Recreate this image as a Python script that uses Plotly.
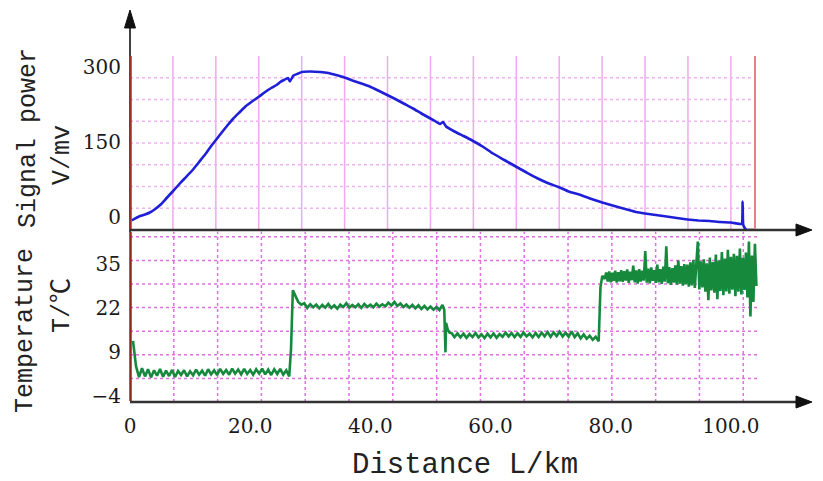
import plotly.graph_objects as go

# ---------------- data ----------------
# Signal power (V/mv) vs distance (km)
sig_km = [0.3, 0.55, 1.5, 2.5, 3.3, 4.2, 5.2, 6.1, 7.1, 8.0, 9.0, 10.5, 11.5, 12.5, 13.4, 14.3,
          15.2, 16.2, 17.2, 18.2, 19.3, 20.3, 21.5, 22.5, 23.5, 24.4, 25.0, 25.6, 26.3, 26.6, 27.2,
          28.0, 28.6, 30.0, 31.6, 33.0, 34.3, 35.7, 37.0, 38.5, 39.9, 41.3, 42.8, 44.3, 45.7, 47.1,
          48.5, 50.0, 51.0, 51.6, 52.1, 52.6, 54.0, 55.5, 57.1, 58.8, 60.4, 62.3, 64.2, 66.0, 67.7,
          69.5, 71.3, 73.0, 75.0, 76.8, 78.6, 80.6, 82.7, 84.2, 85.7, 87.5, 89.3, 91.0, 92.8, 94.6,
          96.5, 98.2, 100.0, 101.0, 101.8, 101.95, 102.05, 102.3, 102.6, 103.2, 104.0]
sig_val = [-7, -5, 1, 5, 9, 16, 26, 38, 51, 63, 76, 95, 110, 125, 140, 154,
           168, 183, 197, 209, 222, 231, 241, 250, 258, 264, 270, 274, 278, 271, 283,
           287, 290, 291, 290, 288, 284, 279, 273, 267, 261, 253, 244, 235, 226, 217,
           207, 197, 190, 186, 190, 181, 171, 162, 152, 140, 127, 114, 101, 89, 78,
           68, 60, 51, 44, 36, 29, 22, 15, 10, 7, 4, 1, -2, -5, -7,
           -8, -10, -11, -13, -14, 31, -15, -22, -26, -26, -26]

# Temperature (°C) vs distance (km), sampled segments
seg_a_start, seg_a_step = 0.5, 0.5
seg_a_val = [12.3, 4.8, 1.6, 4.2, 1.8, 3.9, 1.5, 3.6, 2.0, 4.0, 1.7, 3.5, 1.9, 3.7, 1.6, 3.4,
             2.2, 3.6, 1.8, 3.3, 2.1, 3.8, 2.3, 3.5, 2.0, 3.9, 2.4, 3.6, 2.2, 4.0, 2.5, 3.7,
             2.3, 4.1, 2.6, 3.8, 2.4, 4.0, 2.5, 3.7, 2.3, 3.9, 2.6, 4.1, 2.4, 3.8, 2.2, 3.9,
             2.5, 4.0, 2.3, 3.6, 1.8]
jump1_km = [26.8, 27.1, 27.5, 28.0, 28.5]
jump1_val = [10.0, 27.2, 25.5, 23.8, 23.0]
seg_b_start, seg_b_step = 29.0, 0.5
seg_b_val = [23.4, 22.0, 23.1, 22.2, 23.0, 21.9, 22.9, 22.1, 23.2, 22.0, 22.8, 21.8, 23.0, 22.3,
             23.4, 22.1, 22.9, 22.2, 23.1, 22.0, 23.2, 22.3, 23.0, 22.2, 23.3, 22.4, 23.1, 22.5,
             23.6, 22.7, 23.8, 22.6, 23.3, 22.3, 23.0, 22.1, 22.9, 21.9, 22.8, 21.7, 22.6, 21.6,
             22.4, 21.5, 22.3, 21.4, 22.9]
jump2_km = [52.3, 52.5, 52.6, 52.9, 53.2]
jump2_val = [21.5, 8.9, 17.6, 15.5, 14.7]
seg_c_start, seg_c_step = 53.5, 0.5
seg_c_val = [14.6, 13.4, 14.5, 13.3, 14.4, 13.2, 14.3, 13.4, 14.6, 13.3, 14.2, 13.1, 14.4, 13.3,
             14.5, 13.2, 14.3, 13.5, 14.7, 13.6, 14.6, 13.4, 14.5, 13.5, 14.8, 13.6, 14.4, 13.3,
             14.6, 13.4, 14.7, 13.6, 14.9, 13.5, 14.8, 13.7, 15.0, 13.6, 14.7, 13.5, 15.1, 13.4,
             14.5, 13.0, 14.2, 12.9, 13.8, 12.6, 13.5, 12.2]
jump3_km = [78.3, 78.6, 79.0]
jump3_val = [28.2, 31.5, 30.6]
seg_d_start, seg_d_step = 79.25, 0.25
seg_d_val = [32.5, 29.8, 32.8, 29.6, 32.4, 30.0, 33.0, 29.5, 32.6, 29.9, 33.2, 29.7, 32.9, 30.1,
             33.4, 29.4, 32.7, 30.2, 34.5, 29.6, 33.1, 29.2, 33.5, 29.8, 33.0, 30.1, 38.8, 29.5,
             33.6, 29.3, 34.0, 30.0, 33.2, 29.4, 34.8, 29.6, 33.5, 29.1, 34.2, 29.8, 40.2, 29.3,
             34.1, 28.8, 33.8, 29.5, 34.6, 28.9, 36.1, 29.2, 34.4, 28.6, 35.0, 29.0, 34.8, 28.3,
             35.5, 28.7, 36.2, 27.9, 35.1, 41.6, 27.5, 35.8, 28.1, 36.4, 26.8, 35.2, 24.3, 36.9,
             27.2, 35.6, 26.5, 37.8, 24.6, 36.0, 27.0, 38.5, 25.8, 36.6, 26.9, 39.2, 26.2, 37.1,
             27.4, 38.0, 25.5, 37.4, 26.8, 39.6, 26.0, 36.8, 27.3, 38.4, 25.1, 41.6, 19.5, 37.5,
             23.8, 41.0, 28.5]

x_tick_vals = [0, 20, 40, 60, 80, 100]
x_tick_text = ["0", "20.0", "40.0", "60.0", "80.0", "100.0"]
sig_tick_vals = [0, 150, 300]
sig_tick_text = ["0", "150", "300"]
temp_tick_vals = [-4, 9, 22, 35]
temp_tick_text = ["\u22124", "9", "22", "35"]


def grid(start, step, vals):
    return [round(start + i * step, 3) for i in range(len(vals))]


temp_km = (grid(seg_a_start, seg_a_step, seg_a_val) + jump1_km +
           grid(seg_b_start, seg_b_step, seg_b_val) + jump2_km +
           grid(seg_c_start, seg_c_step, seg_c_val) + jump3_km +
           grid(seg_d_start, seg_d_step, seg_d_val))
temp_val = seg_a_val + jump1_val + seg_b_val + jump2_val + seg_c_val + jump3_val + seg_d_val

# ---------------- layout helpers ----------------
# The page body adds an 8px offset, so the figure is 8px smaller and
# pixel geometry below is expressed in the 823x481 screenshot frame.
OFF = 8
W, H = 823 - OFF, 481 - OFF
PX0, PX1, PY0, PY1 = 130, 812, 8, 402     # plot area in screenshot pixels
ML, MT = PX0 - OFF, PY0 - OFF
MR, MB = W - ML - (PX1 - PX0), H - MT - (PY1 - PY0)
PW, PH = PX1 - PX0, PY1 - PY0


def px(X):
    return (X - PX0) / PW


def py(Y):
    return (PY1 - Y) / PH


TOP_DOM = [py(230), py(56)]
BOT_DOM = [0, py(230)]

fig = go.Figure()
fig.add_trace(go.Scatter(x=sig_km, y=sig_val, xaxis="x2", yaxis="y2", mode="lines",
                         line=dict(color="#1f1fd8", width=2.6, shape="spline", smoothing=0.4),
                         showlegend=False))
fig.add_trace(go.Scatter(x=temp_km, y=temp_val, xaxis="x", yaxis="y", mode="lines",
                         line=dict(color="#16893d", width=2.6), showlegend=False))

tickfont = dict(family="DejaVu Serif", size=20, color="#1a1a1a")
title_font = dict(family="Liberation Mono, DejaVu Sans Mono, Noto Sans CJK SC", size=25, color="#222")

shapes = []
# top panel grid: vertical solid, horizontal dotted
for k in range(1, 15):
    shapes.append(dict(type="line", xref="x2", yref="y2 domain", x0=k * 100 / 14, x1=k * 100 / 14,
                       y0=0, y1=1, line=dict(color="#f0a8f0", width=1.5), layer="below"))
for k in range(1, 8):
    shapes.append(dict(type="line", xref="x2", yref="y2 domain", x0=0, x1=104, y0=k / 8, y1=k / 8,
                       line=dict(color="#f0b4f0", width=1.5, dash="dot"), layer="below"))
# bottom panel grid: dotted
for k in range(1, 15):
    shapes.append(dict(type="line", xref="x", yref="y domain", x0=k * 7.29, x1=k * 7.29,
                       y0=0, y1=0.99, line=dict(color="#e070e0", width=1.5, dash="dot"), layer="below"))
for k in range(1, 8):
    f = k * 23.6 / 172
    shapes.append(dict(type="line", xref="x", yref="y domain", x0=0, x1=104.5, y0=f, y1=f,
                       line=dict(color="#e070e0", width=1.5, dash="dot"), layer="below"))


# axis lines and arrows (pixel geometry)
def pline(X0, Y0, X1, Y1, color, width):
    shapes.append(dict(type="line", xref="paper", yref="paper", x0=px(X0), y0=py(Y0),
                       x1=px(X1), y1=py(Y1), line=dict(color=color, width=width)))


def ptri(pts, color):
    path = "M " + " L ".join(f"{px(a):.5f},{py(b):.5f}" for a, b in pts) + " Z"
    shapes.append(dict(type="path", xref="paper", yref="paper", path=path,
                       fillcolor=color, line=dict(color=color, width=1)))


pline(130, 232, 130, 24, "#111", 1.6)
ptri([(130, 10), (124.5, 28), (135.5, 28)], "#111")
pline(130, 230, 800, 230, "#333", 2.5)
ptri([(812, 230), (796, 224), (796, 236)], "#111")
pline(130, 402, 800, 402, "#333", 2.5)
ptri([(812, 402), (796, 396), (796, 408)], "#111")
pline(130.5, 56, 130.5, 229, "#a3302c", 2.5)
pline(130.5, 232, 130.5, 401, "#8a2a20", 2.5)
pline(755, 56, 755, 229, "#e58585", 2)

annotations = [
    dict(text="Signal power", x=px(28), y=py(138), textangle=-90, font=title_font),
    dict(text="V/mv", x=px(63), y=py(155), textangle=-90, font=title_font),
    dict(text="Temperature", x=px(25), y=py(331), textangle=-90, font=title_font),
    dict(text="T/\u2103", x=px(62), y=py(306), textangle=-90, font=title_font),
    dict(text="Distance L/km", x=px(465), y=py(465),
         font=dict(family="Liberation Mono, DejaVu Sans Mono", size=29, color="#222")),
]
for a in annotations:
    a.update(xref="paper", yref="paper", showarrow=False, xanchor="center", yanchor="middle")

fig.update_layout(
    width=W, height=H,
    margin=dict(l=ML, r=MR, t=MT, b=MB, autoexpand=False),
    paper_bgcolor="white", plot_bgcolor="white",
    xaxis=dict(domain=[0, 1], range=[0, 113.5], anchor="y", tickvals=x_tick_vals,
               ticktext=x_tick_text, tickfont=tickfont, showgrid=False, zeroline=False,
               showline=False, ticks="", ticklabelstandoff=10),
    xaxis2=dict(domain=[0, 1], range=[0, 113.5], anchor="y2", showticklabels=False,
                showgrid=False, zeroline=False, showline=False, ticks=""),
    yaxis=dict(domain=BOT_DOM, range=[-5.77, 45.04], tickvals=temp_tick_vals,
               ticktext=temp_tick_text, tickfont=tickfont, showgrid=False, zeroline=False,
               showline=False, ticks="", ticklabelstandoff=8),
    yaxis2=dict(domain=TOP_DOM, range=[-26, 322], tickvals=sig_tick_vals,
                ticktext=sig_tick_text, tickfont=tickfont, showgrid=False, zeroline=False,
                showline=False, ticks="", ticklabelstandoff=8),
    shapes=shapes,
    annotations=annotations,
    showlegend=False,
)

fig.write_html("out.html")
